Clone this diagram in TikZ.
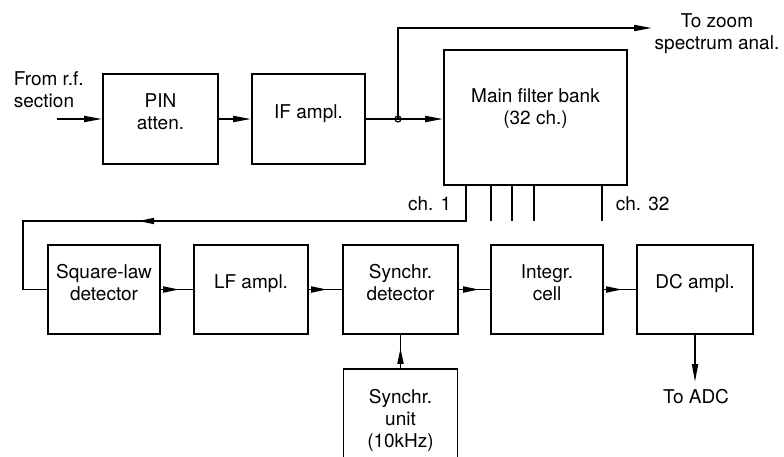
\documentclass[tikz,border=0pt]{standalone}
\usepackage{fontspec}
\setmainfont{TeX Gyre Heros}
\usetikzlibrary{arrows.meta,decorations.markings,calc}
\newcommand\mlines[1]{\begin{tabular}[t]{@{}c@{}}#1\end{tabular}}
\newcommand\mlinesl[1]{\begin{tabular}[t]{@{}l@{}}#1\end{tabular}}
\begin{document}
\begin{tikzpicture}[x=1pt,y=-1pt,line width=1.8pt,
  box/.style={draw,rectangle,inner sep=0pt,line width=1.8pt},
  lbl/.style={font=\fontsize{19}{22}\selectfont,inner sep=0pt,anchor=base},
  tip/.style={-{Triangle[length=18pt,width=6pt]}},
  arrowmark/.style={postaction={decorate},decoration={markings,
     mark=at position #1 with {\arrow{Triangle[length=16pt,width=6pt]}}}}]
\useasboundingbox (0,0) rectangle (784,456);
\clip (0,0) rectangle (784,456);

% top row
\node[box,minimum width=115pt,minimum height=90pt] (pin) at (160.5,119) {};
\node[box,minimum width=113pt,minimum height=90pt] (ifa) at (308.5,119) {};
\node[box,minimum width=183pt,minimum height=135pt] (mfb) at (535.5,117.5) {};

\node[lbl] (tpin) at (160.5,107) {\mlines{PIN\\atten.}};
\node[lbl] (tifa) at (308.5,118) {IF ampl.};
\node[lbl] (tmfb) at (535.5,102) {\mlines{Main filter bank\\(32 ch.)}};

\node[lbl,anchor=base west] (trf) at (13,85) {\mlinesl{From r.f.\\section}};
\node[lbl] (tzoom) at (717,27) {\mlines{To zoom\\spectrum anal.}};

\coordinate (rfin) at (57,119);
\draw[tip] (rfin) -- (rfin -| pin.west);
\draw[tip] (pin.east) -- (ifa.west);
\coordinate (j) at (398,119);
\draw (ifa.east) -- (j);
\draw[tip] (j) -- (j -| mfb.west);
\coordinate (zoomend) at (652,28);
\draw[tip] (j) |- (zoomend);
\node[draw,circle,inner sep=0pt,minimum size=6pt,line width=1.2pt] (jc) at (j) {};

% channel outputs
\coordinate (c1) at ($(mfb.south west)+(23,0)$);
\coordinate (c2) at ($(mfb.south west)+(48,0)$);
\coordinate (c3) at ($(mfb.south west)+(69,0)$);
\coordinate (c4) at ($(mfb.south west)+(91,0)$);
\coordinate (c32) at ($(mfb.south west)+(159,0)$);
\coordinate (e2) at ($(c2)+(0,35)$);
\coordinate (e3) at ($(c3)+(0,35)$);
\coordinate (e4) at ($(c4)+(0,35)$);
\coordinate (e32) at ($(c32)+(0,35)$);
\draw (c2) -- (e2);
\draw (c3) -- (e3);
\draw (c4) -- (e4);
\draw (c32) -- (e32);
\node[lbl,anchor=base east] (tch1) at (452,210) {ch. 1};
\node[lbl,anchor=base west] (tch32) at (615,210) {ch. 32};

% bottom row
\node[box,minimum width=112pt,minimum height=89pt] (sld) at (104,289.5) {};
\node[box,minimum width=114pt,minimum height=89pt] (lfa) at (251,289.5) {};
\node[box,minimum width=115pt,minimum height=89pt] (sd) at (400.5,289.5) {};
\node[box,minimum width=112pt,minimum height=89pt] (ic) at (547,289.5) {};
\node[box,minimum width=116pt,minimum height=89pt] (dc) at (695,289.5) {};
\node[box,minimum width=114pt,minimum height=100pt] (su) at (400.5,419) {};

\node[lbl] (tsld) at (104,278) {\mlines{Square-law\\detector}};
\node[lbl] (tlfa) at (251,288) {LF ampl.};
\node[lbl] (tsd) at (400.5,278) {\mlines{Synchr.\\detector}};
\node[lbl] (tic) at (547,278) {\mlines{Integr.\\cell}};
\node[lbl] (tdc) at (695,288) {DC ampl.};
\node[lbl] (tsu) at (400.5,403) {\mlines{Synchr.\\unit\\(10kHz)}};
\node[lbl] (tadc) at (696,403) {To ADC};

\coordinate (turn) at (23,221);
\draw[arrowmark=363pt] (c1) |- (turn) |- (sld.west);
\draw[arrowmark=-14pt] (sld.east) -- (lfa.west);
\draw[arrowmark=-15pt] (lfa.east) -- (sd.west);
\draw[arrowmark=-11pt] (sd.east) -- (ic.west);
\draw[arrowmark=-14pt] (ic.east) -- (dc.west);
\draw[arrowmark=-13pt] (su.north) -- (sd.south);
\coordinate (adc) at (695,382);
\draw[tip] (dc.south) -- (adc);
\end{tikzpicture}
\end{document}
